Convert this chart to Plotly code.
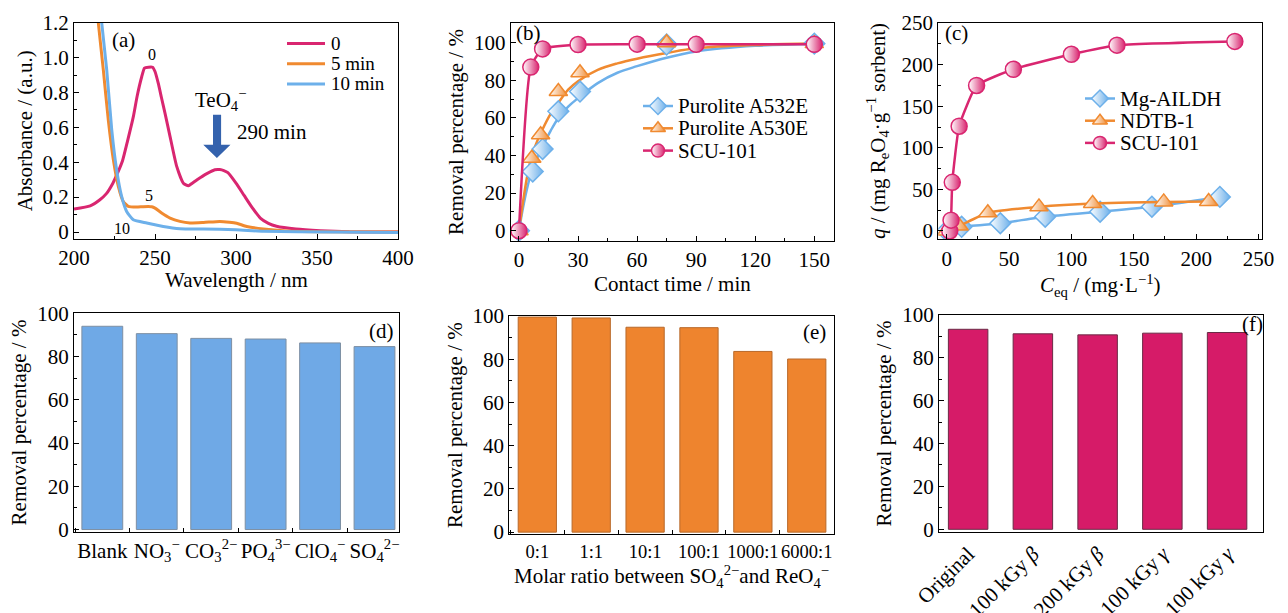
import plotly.graph_objects as go

W, H = 1288, 613
FONT = "Liberation Serif"
PINK = "#d92670"
ORANGE = "#f08a30"
BLUE = "#6db0ea"
BAR_BLUE = "#6fa9e6"
BAR_ORANGE = "#ee842e"
BAR_PINK = "#d61b68"
TICK_SIZE = 21
TITLE_SIZE = 21

# ---------------- Panel (a): UV-vis spectra ----------------
wl_0 = [200, 210, 216, 220, 224, 227, 230, 233, 236.6, 239, 241.8, 243.5, 246, 248.5, 250, 252, 254,
        256.2, 259.3, 263.4, 267.5, 270.6, 273, 276, 282, 287, 290, 292.5, 295, 300, 305, 310, 315,
        320, 325, 337, 352, 370, 400]
abs_0 = [0.132, 0.15, 0.185, 0.22, 0.28, 0.34, 0.41, 0.52, 0.66, 0.78, 0.89, 0.94, 0.945, 0.945, 0.92,
         0.853, 0.77, 0.68, 0.547, 0.376, 0.28, 0.265, 0.28, 0.30, 0.335, 0.357, 0.358, 0.352, 0.34,
         0.28, 0.21, 0.14, 0.08, 0.05, 0.033, 0.017, 0.008, 0.002, 0.0]
wl_5 = [214.3, 215, 218.1, 221.2, 224.3, 227.4, 230.4, 233.5, 238.6, 242, 245.9, 248, 250, 254.1, 259.3,
        265.4, 271.6, 280, 290, 296, 300.4, 306.6, 316.9, 331, 350, 400]
abs_5 = [1.3, 1.2, 0.93, 0.64, 0.414, 0.26, 0.175, 0.147, 0.143, 0.145, 0.147, 0.145, 0.137, 0.109, 0.08,
         0.061, 0.052, 0.055, 0.061, 0.056, 0.05, 0.032, 0.017, 0.006, 0.002, 0.0]
wl_10 = [216.3, 217.1, 220.2, 223.3, 226.3, 229.4, 232.5, 236.6, 244.9, 255.1, 265.4, 280, 300, 317, 358, 400]
abs_10 = [1.3, 1.2, 0.93, 0.586, 0.357, 0.204, 0.118, 0.07, 0.052, 0.032, 0.019, 0.017, 0.013, 0.004, 0.0, -0.003]
names_a = ["0", "5 min", "10 min"]

# ---------------- Panel (b): kinetics ----------------
t_a532 = [0, 7, 12, 20, 31, 75, 150]
r_a532 = [0, 31.5, 43.5, 63.5, 74, 99, 99.5]
t_a530 = [0, 6.5, 11, 20, 31, 75, 150]
r_a530 = [0, 38.5, 51, 74, 84, 100, 99.5]
t_scu = [0, 6, 12, 30, 60, 90, 150]
r_scu = [0, 87, 96.7, 99, 99.2, 99.1, 99.1]
fit_t = [0, 2, 4, 6, 9, 12, 16, 20, 25, 30, 40, 50, 60, 75, 90, 120, 150]
fit_a532 = [0, 12, 22, 30, 38, 45, 53, 60, 66, 70.5, 78.5, 84, 87.5, 92, 95.3, 98.3, 99.3]
fit_a530 = [0, 15, 28, 38, 47, 54, 62, 68, 75, 79.5, 85.5, 89, 91.5, 94.5, 97, 98.8, 99.5]
names_b = ["Purolite A532E", "Purolite A530E", "SCU-101"]

# ---------------- Panel (c): isotherms ----------------
ceq_mg = [0, 12, 43, 79, 123, 164.5, 219]
q_mg = [0, 5, 9.3, 17.2, 23.2, 29.2, 41]
ceq_ndtb = [0, 10, 33, 74, 117, 174, 210]
q_ndtb = [0, 6, 22, 29, 33, 35, 35.5]
ceq_scu = [2.5, 3.5, 4.5, 10, 24, 53.5, 100, 136.5, 231]
q_scu = [0, 13, 58.5, 126, 175, 194.5, 212.5, 223.5, 228]
names_c = ["Mg-AILDH", "NDTB-1", "SCU-101"]

# ---------------- Panel (d), (e), (f): bars ----------------
anions = ["Blank", "NO<sub>3</sub><sup>−</sup>", "CO<sub>3</sub><sup>2−</sup>", "PO<sub>4</sub><sup>3−</sup>",
          "ClO<sub>4</sub><sup>−</sup>", "SO<sub>4</sub><sup>2−</sup>"]
removal_anions = [94, 90.6, 88.4, 88.1, 86.3, 84.6]
ratios = ["0:1", "1:1", "10:1", "100:1", "1000:1", "6000:1"]
removal_ratios = [99.5, 99.1, 94.8, 94.6, 83.6, 80.1]
irrad_labels = ["Original", "100 kGy <i>β</i>", "200 kGy <i>β</i>", "100 kGy <i>γ</i>", "100 kGy <i>γ</i>"]
irrad_pos = list(range(len(irrad_labels)))
removal_irrad = [93.2, 91.1, 90.6, 91.4, 91.7]


def dom_x(a, b):
    return [a / W, b / W]


def dom_y(top, bottom):
    return [1 - bottom / H, 1 - top / H]


def half_marker(symbol, col, size=15):
    return dict(symbol=symbol, size=size, color="white", line=dict(color=col, width=1.5),
                gradient=dict(type="horizontal", color=col))


fig = go.Figure()

# Panel a traces
for xs, ys, col, nm in [(wl_0, abs_0, PINK, names_a[0]), (wl_5, abs_5, ORANGE, names_a[1]),
                        (wl_10, abs_10, BLUE, names_a[2])]:
    fig.add_trace(go.Scatter(x=xs, y=ys, mode="lines", name=nm,
                             line=dict(color=col, width=3, shape="spline", smoothing=0.5),
                             xaxis="x", yaxis="y"))

# Panel b traces
fig.add_trace(go.Scatter(x=fit_t, y=fit_a532, mode="lines", name=names_b[0] + " fit",
                         line=dict(color=BLUE, width=2.5, shape="spline"), xaxis="x2", yaxis="y2"))
fig.add_trace(go.Scatter(x=fit_t, y=fit_a530, mode="lines", name=names_b[1] + " fit",
                         line=dict(color=ORANGE, width=2.5, shape="spline"), xaxis="x2", yaxis="y2"))
fig.add_trace(go.Scatter(x=t_a532, y=r_a532, mode="markers", name=names_b[0],
                         marker=half_marker("diamond", BLUE, 16), xaxis="x2", yaxis="y2"))
fig.add_trace(go.Scatter(x=t_a530, y=r_a530, mode="markers", name=names_b[1],
                         marker=half_marker("triangle-up", ORANGE, 16), xaxis="x2", yaxis="y2"))
fig.add_trace(go.Scatter(x=t_scu, y=r_scu, mode="lines+markers", name=names_b[2],
                         line=dict(color=PINK, width=2.5, shape="spline", smoothing=0.5),
                         marker=half_marker("circle", PINK, 16), xaxis="x2", yaxis="y2"))

# Panel c traces
fig.add_trace(go.Scatter(x=ceq_mg, y=q_mg, mode="lines+markers", name=names_c[0],
                         line=dict(color=BLUE, width=2.5, shape="spline", smoothing=0.5),
                         marker=half_marker("diamond", BLUE, 16), xaxis="x3", yaxis="y3"))
fig.add_trace(go.Scatter(x=ceq_ndtb, y=q_ndtb, mode="lines+markers", name=names_c[1],
                         line=dict(color=ORANGE, width=2.5, shape="spline", smoothing=0.5),
                         marker=half_marker("triangle-up", ORANGE, 16), xaxis="x3", yaxis="y3"))
fig.add_trace(go.Scatter(x=ceq_scu, y=q_scu, mode="lines+markers", name=names_c[2],
                         line=dict(color=PINK, width=2.5, shape="spline", smoothing=0.4),
                         marker=half_marker("circle", PINK, 16), xaxis="x3", yaxis="y3"))

# Bars
fig.add_trace(go.Bar(x=anions, y=removal_anions, width=0.75,
                     marker=dict(color=BAR_BLUE, line=dict(color="#7d8fa3", width=1)),
                     xaxis="x4", yaxis="y4"))
fig.add_trace(go.Bar(x=ratios, y=removal_ratios, width=0.71,
                     marker=dict(color=BAR_ORANGE, line=dict(color="#b8692a", width=1)),
                     xaxis="x5", yaxis="y5"))
fig.add_trace(go.Bar(x=irrad_pos, y=removal_irrad, width=0.61,
                     marker=dict(color=BAR_PINK, line=dict(color="#6a2a45", width=1)),
                     xaxis="x6", yaxis="y6"))

# ---------------- Hand-built legends (pixel-space overlay axis) ----------------
legend_annotations = []


def add_legend(names, styles, x0, x1, text_x, y0, dy, fsize):
    for i, (nm, st) in enumerate(zip(names, styles)):
        yy = y0 + i * dy
        col, sym = st
        xc = (x0 + x1) / 2
        fig.add_trace(go.Scatter(x=[x0, x1], y=[yy, yy], mode="lines", hoverinfo="skip",
                                 line=dict(color=col, width=3 if sym is None else 2.5),
                                 xaxis="x7", yaxis="y7"))
        if sym is not None:
            fig.add_trace(go.Scatter(x=[xc], y=[yy], mode="markers", hoverinfo="skip",
                                     marker=half_marker(sym, col, 13), xaxis="x7", yaxis="y7"))
        legend_annotations.append(dict(text=nm, x=text_x, y=yy, xref="x7", yref="y7", xanchor="left",
                                       yanchor="middle", showarrow=False,
                                       font=dict(family=FONT, size=fsize, color="black")))


add_legend(names_a, [(PINK, None), (ORANGE, None), (BLUE, None)], 287, 325, 329, 43.5, 20.2, 19)
add_legend(names_b, [(BLUE, "diamond"), (ORANGE, "triangle-up"), (PINK, "circle")], 643, 673, 676, 106, 22.3, 21)
add_legend(names_c, [(BLUE, "diamond"), (ORANGE, "triangle-up"), (PINK, "circle")], 1085, 1115, 1118, 98.5, 22.2, 21)


def axis(domain, rng, title="", anchor=None, standoff=4, **kw):
    d = dict(domain=domain, range=rng, showline=True, linecolor="black", linewidth=1.2, mirror=True,
             ticks="inside", ticklen=5, tickwidth=1, tickcolor="black", showgrid=False, zeroline=False,
             automargin=False,
             tickfont=dict(family=FONT, size=TICK_SIZE, color="black"),
             title=dict(text=title, font=dict(family=FONT, size=TITLE_SIZE, color="black"), standoff=standoff))
    if anchor:
        d["anchor"] = anchor
    d.update(kw)
    return d


minor_style = dict(ticks="inside", ticklen=3, tickcolor="black")

layout = dict(
    template="none",
    showlegend=False,
    width=W, height=H, margin=dict(l=0, r=0, t=0, b=0, pad=0, autoexpand=False),
    paper_bgcolor="white", plot_bgcolor="rgba(0,0,0,0)",
    font=dict(family=FONT, size=TICK_SIZE, color="black"),
    xaxis=axis(dom_x(74, 398), [200, 400], "", "y", dtick=50,
               minor=dict(dtick=25, **minor_style)),
    yaxis=axis(dom_y(22.7, 239), [-0.04, 1.2], "Absorbance / (a.u.)", "x",
               tickvals=[0, 0.2, 0.4, 0.6, 0.8, 1.0, 1.2],
               ticktext=["0", "0.2", "0.4", "0.6", "0.8", "1.0", "1.2"],
               minor=dict(dtick=0.1, tick0=0, **minor_style)),
    xaxis2=axis(dom_x(510.7, 834), [-4.2, 160], "Contact time / min", "y2", dtick=30,
                minor=dict(dtick=15, **minor_style)),
    yaxis2=axis(dom_y(23.3, 240.7), [-5.3, 110.3], "Removal percentage / %", "x2", dtick=20,
                minor=dict(dtick=10, **minor_style)),
    xaxis3=axis(dom_x(938.3, 1262.3), [-6.7, 253], "<i>C</i><sub>eq</sub> / (mg·L<sup>−1</sup>)", "y3", dtick=50,
                minor=dict(dtick=25, **minor_style)),
    yaxis3=axis(dom_y(22.7, 239.3), [-10, 250.5], "<i>q</i> / (mg R<sub>e</sub>O<sub>4</sub>·g<sup>−1</sup> sorbent)",
                "x3", standoff=10, dtick=50, minor=dict(dtick=25, **minor_style)),
    xaxis4=axis(dom_x(74, 399), [-0.52, 5.45], "", "y4", tickson="boundaries", ticklen=4, tickangle=0),
    yaxis4=axis(dom_y(313.3, 531.7), [-1, 100], "Removal percentage / %", "x4", dtick=20,
                minor=dict(dtick=10, **minor_style)),
    xaxis5=axis(dom_x(509.3, 833.7), [-0.52, 5.5],
                "Molar ratio between SO<sub>4</sub><sup>2−</sup>and ReO<sub>4</sub><sup>−</sup>", "y5",
                tickson="boundaries", ticklen=4, tickangle=0,
                tickfont=dict(family=FONT, size=18.5, color="black")),
    yaxis5=axis(dom_y(316, 534.3), [-1, 100], "Removal percentage / %", "x5", dtick=20,
                minor=dict(dtick=10, **minor_style)),
    xaxis6=axis(dom_x(939, 1262.7), [-0.45, 4.55], "", "y6", tickvals=irrad_pos, ticktext=irrad_labels,
                tickangle=-45, ticks=""),
    yaxis6=axis(dom_y(314.7, 532.3), [-1.4, 100], "Removal percentage / %", "x6", dtick=20,
                minor=dict(dtick=10, **minor_style)),
    xaxis7=dict(domain=[0, 1], range=[0, W], visible=False, fixedrange=True, anchor="y7", automargin=False),
    yaxis7=dict(domain=[0, 1], range=[H, 0], visible=False, fixedrange=True, anchor="x7", automargin=False),
)
fig.update_layout(**layout)

ann_font = dict(family=FONT, size=21, color="black")
small_font = dict(family=FONT, size=16, color="black")
annotations = [
    dict(text="(a)", x=123 / W, y=1 - 40 / H, xref="paper", yref="paper"),
    dict(text="(b)", x=528 / W, y=1 - 33 / H, xref="paper", yref="paper"),
    dict(text="(c)", x=956 / W, y=1 - 33 / H, xref="paper", yref="paper"),
    dict(text="(d)", x=381 / W, y=1 - 331 / H, xref="paper", yref="paper"),
    dict(text="(e)", x=814 / W, y=1 - 332 / H, xref="paper", yref="paper"),
    dict(text="(f)", x=1252 / W, y=1 - 324 / H, xref="paper", yref="paper"),
    dict(text="Wavelength / nm", x=236 / W, y=1 - 280 / H, xref="paper", yref="paper"),
    dict(text="TeO<sub>4</sub><sup>−</sup>", x=290.5, y=0.76, xref="x", yref="y"),
    dict(text="290 min", x=322, y=0.575, xref="x", yref="y"),
]
for a in annotations:
    a.update(showarrow=False, font=ann_font, xanchor="center", yanchor="middle")
annotations += [
    dict(text="0", x=248, y=1.02, xref="x", yref="y", showarrow=False, font=small_font, xanchor="center"),
    dict(text="5", x=246, y=0.21, xref="x", yref="y", showarrow=False, font=small_font, xanchor="center"),
    dict(text="10", x=229.5, y=0.02, xref="x", yref="y", showarrow=False, font=small_font, xanchor="center"),
]
fig.update_layout(annotations=annotations + legend_annotations)

# Block arrow in panel (a)
sx0, sx1 = 285.8, 290.8
hx0, hx1 = 279.8, 296.6
y_top, y_base, y_tip = 0.672, 0.50, 0.424
xm = (hx0 + hx1) / 2
path = (f"M {sx0},{y_top} L {sx1},{y_top} L {sx1},{y_base} L {hx1},{y_base} L {xm},{y_tip} "
        f"L {hx0},{y_base} L {sx0},{y_base} Z")
fig.add_shape(type="path", path=path, xref="x", yref="y", fillcolor="#3462ad", line=dict(width=0))

fig.write_html("out.html")
